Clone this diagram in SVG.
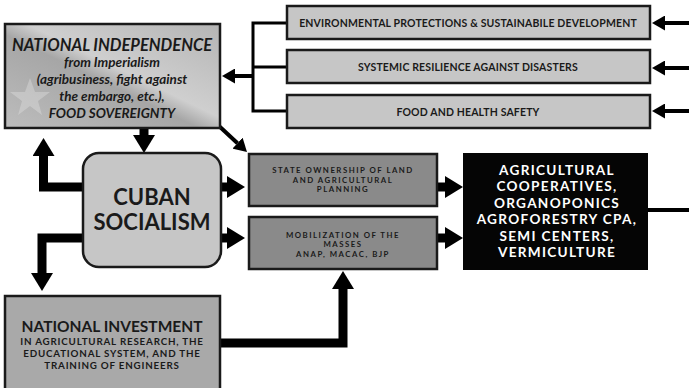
<svg xmlns="http://www.w3.org/2000/svg" width="689" height="388" viewBox="0 0 689 388">
  <defs>
    <style>
      .t { font-family: Lato, "Liberation Sans", sans-serif; font-weight: bold; text-anchor: middle; fill: #1a1a1a; }
      .w { fill: #ffffff; font-size: 13.6px; letter-spacing: 1.3px; }
      .box { stroke: #1a1a1a; stroke-width: 2.5; }
      .light { fill: #c6c6c6; }
      .dark { fill: #8a8a8a; }
      .thick { fill: none; stroke: #000; stroke-width: 9; }
      .thin { fill: none; stroke: #000; stroke-width: 4; }
      .br { fill: none; stroke: #000; stroke-width: 3; }
      .top { font-size: 10.5px; letter-spacing: 0.15px; }
      .mid { font-size: 7.8px; letter-spacing: 1.5px; }
    </style>
    <linearGradient id="flag" x1="0" y1="1" x2="1" y2="0">
      <stop offset="0" stop-color="#bdbdbd"/>
      <stop offset="0.45" stop-color="#a6a6a6"/>
      <stop offset="0.55" stop-color="#cfcfcf"/>
      <stop offset="1" stop-color="#b4b4b4"/>
    </linearGradient>
    <marker id="big" markerUnits="userSpaceOnUse" markerWidth="18" markerHeight="22" refX="0" refY="11" orient="auto" viewBox="0 0 18 22">
      <path d="M0,0 L18,11 L0,22 Z" fill="#000"/>
    </marker>
    <marker id="small" markerUnits="userSpaceOnUse" markerWidth="13" markerHeight="15" refX="0" refY="7.5" orient="auto" viewBox="0 0 13 15">
      <path d="M0,0 L13,7.5 L0,15 Z" fill="#000"/>
    </marker>
  </defs>

  <rect width="689" height="388" fill="#ffffff"/>

  <g id="connectors">
    <path class="thick" d="M144,128 V135" marker-end="url(#big)"/>
    <path class="thick" d="M84,187 H43.5 V156" marker-end="url(#big)"/>
    <path class="thick" d="M84,238 H42 V273" marker-end="url(#big)"/>
    <path class="thick" d="M220,187 H227" marker-end="url(#big)"/>
    <path class="thick" d="M220,238 H227" marker-end="url(#big)"/>
    <path class="thick" d="M436,187 H445" marker-end="url(#big)"/>
    <path class="thick" d="M436,238 H445" marker-end="url(#big)"/>
    <path class="thick" d="M219,343 H343 V289" marker-end="url(#big)"/>
    <path class="thin" d="M219,126 L237.5,143.2" marker-end="url(#small)"/>
    <path class="thin" d="M689,23 H665" marker-end="url(#small)"/>
    <path class="thin" d="M689,68 H665" marker-end="url(#small)"/>
    <path class="thin" d="M689,111 H665" marker-end="url(#small)"/>
    <path class="br" d="M287,23 H253 V111 H287 M253,67 H287"/>
    <path class="thin" d="M253,76 H235" marker-end="url(#small)"/>
    <path class="thin" d="M648,210 H689"/>
  </g>

  <g id="national-independence">
    <rect class="box" x="5" y="24" width="215" height="104" fill="url(#flag)"/>
    <polygon points="30,78 35,92 50,92 38,101 42,115 30,106 18,115 22,101 10,92 25,92" fill="#dcdcdc" opacity="0.45"/>
    <text class="t" font-style="italic" font-size="16.5" x="112" y="51">NATIONAL INDEPENDENCE</text>
    <text class="t" font-style="italic" font-size="13.5" x="112" y="67">from Imperialism</text>
    <text class="t" font-style="italic" font-size="13.5" x="112" y="84">(agribusiness, fight against</text>
    <text class="t" font-style="italic" font-size="13.5" x="112" y="101">the embargo, etc.),</text>
    <text class="t" font-style="italic" font-size="13.5" x="112" y="118">FOOD SOVEREIGNTY</text>
  </g>

  <g id="environmental">
    <rect class="box light" x="287" y="6" width="363" height="33"/>
    <text class="t top" x="468" y="26.5">ENVIRONMENTAL PROTECTIONS &amp; SUSTAINABILE DEVELOPMENT</text>
  </g>
  <g id="resilience">
    <rect class="box light" x="287" y="50" width="363" height="33"/>
    <text class="t top" x="468" y="70.5">SYSTEMIC RESILIENCE AGAINST DISASTERS</text>
  </g>
  <g id="food-safety">
    <rect class="box light" x="287" y="95" width="363" height="33"/>
    <text class="t top" x="468" y="115.5">FOOD AND HEALTH SAFETY</text>
  </g>

  <g id="cuban-socialism">
    <rect class="box light" x="83" y="153" width="138" height="114" rx="16" ry="16"/>
    <text class="t" font-size="22" x="152" y="205">CUBAN</text>
    <text class="t" font-size="22" x="152" y="230">SOCIALISM</text>
  </g>

  <g id="state-ownership">
    <rect class="box dark" x="249" y="154" width="188" height="52"/>
    <text class="t mid" x="343" y="173">STATE OWNERSHIP OF LAND</text>
    <text class="t mid" x="343" y="182.5">AND AGRICULTURAL</text>
    <text class="t mid" x="343" y="192">PLANNING</text>
  </g>

  <g id="mobilization">
    <rect class="box dark" x="249" y="217" width="188" height="52"/>
    <text class="t mid" x="343" y="237.5">MOBILIZATION OF THE</text>
    <text class="t mid" x="343" y="247">MASSES</text>
    <text class="t mid" x="343" y="256.5">ANAP, MACAC, BJP</text>
  </g>

  <g id="agricultural-cooperatives">
    <rect x="463" y="153" width="185" height="117" fill="#050505"/>
    <text class="t w" x="557" y="175">AGRICULTURAL</text>
    <text class="t w" x="557" y="191.4">COOPERATIVES,</text>
    <text class="t w" x="557" y="207.8">ORGANOPONICS</text>
    <text class="t w" x="557" y="224.2">AGROFORESTRY CPA,</text>
    <text class="t w" x="557" y="240.6">SEMI CENTERS,</text>
    <text class="t w" x="557" y="257">VERMICULTURE</text>
  </g>

  <g id="national-investment">
    <rect class="box" x="5" y="296" width="215" height="100" fill="#a9a9a9"/>
    <text class="t" font-size="15.5" x="112" y="332">NATIONAL INVESTMENT</text>
    <text class="t" font-size="9.8" letter-spacing="0.8" x="112" y="345">IN AGRICULTURAL RESEARCH, THE</text>
    <text class="t" font-size="9.8" letter-spacing="0.8" x="112" y="357">EDUCATIONAL SYSTEM, AND THE</text>
    <text class="t" font-size="9.8" letter-spacing="0.8" x="112" y="369">TRAINING OF ENGINEERS</text>
  </g>
</svg>
